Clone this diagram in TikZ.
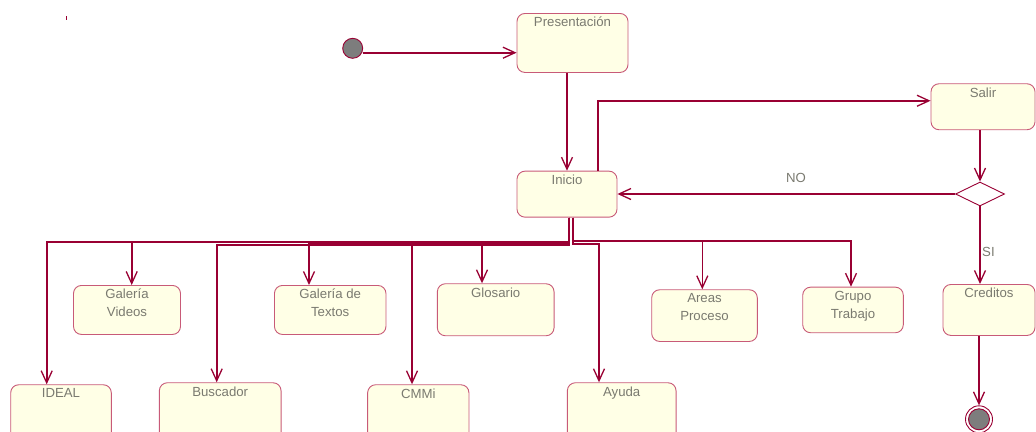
\documentclass[tikz,border=0pt]{standalone}
\usepackage{fontspec}
\setmainfont{Liberation Sans}
\usetikzlibrary{arrows.meta,shapes.geometric}

\definecolor{wire}{RGB}{153,0,51}
\definecolor{rim}{RGB}{200,90,120}
\definecolor{paper}{RGB}{255,255,230}
\definecolor{ink}{RGB}{122,122,112}
\definecolor{dot}{RGB}{125,125,125}

\tikzset{
  actbox/.style={draw=rim, fill=paper, line width=0.9pt, rounded corners=8pt,
                 inner sep=0pt, anchor=north},
  boxtext/.style={font=\fontsize{13.2}{18}\selectfont, text=ink, align=center,
                  inner sep=0pt, anchor=north},
  conn/.style={draw=wire, line width=1.6pt,
               -{Straight Barb[length=12pt,width=11pt,line width=1.3pt]}},
  pseudo/.style={circle, draw=wire, line width=0.9pt, inner sep=0pt},
}

\begin{document}
\begin{tikzpicture}[x=1pt, y=-1pt]
  \clip (0,0) rectangle (1036,431);

  % stray mark near the top left
  \fill[wire] (65.5,16) rectangle (67,19.5);

  % start and end states
  \node[pseudo, fill=dot, minimum size=20pt] (init) at (352.7,48.3) {};
  \node[pseudo, minimum size=27pt] (fin) at (979,419.3) {};
  \node[pseudo, fill=dot, minimum size=21pt] (finin) at (fin.center) {};

  % activity boxes: (centre x, top), width, height
  \node[actbox, minimum width=111pt, minimum height=59pt,
        label={[boxtext,yshift=-4pt]north:Presentación}] (pres) at (572.5,13) {};
  \node[actbox, minimum width=100pt, minimum height=46pt,
        label={[boxtext,yshift=-4pt]north:Inicio}] (ini) at (567,170.7) {};
  \node[actbox, minimum width=104pt, minimum height=46pt,
        label={[boxtext,yshift=-4pt]north:Salir}] (salir) at (983,83.3) {};
  \node[actbox, minimum width=92pt, minimum height=51pt,
        label={[boxtext,yshift=-4pt]north:Creditos}] (cred) at (989,284) {};

  \node[actbox, minimum width=107pt, minimum height=49pt,
        label={[boxtext,yshift=-4pt]north:{Galería\\Videos}}] (videos) at (127,285) {};
  \node[actbox, minimum width=111.5pt, minimum height=49pt,
        label={[boxtext,yshift=-4pt]north:{Galería de\\Textos}}] (textos) at (330.2,285) {};
  \node[actbox, minimum width=116.7pt, minimum height=52pt,
        label={[boxtext,yshift=-4pt]north:Glosario}] (glos) at (495.7,283.3) {};
  \node[actbox, minimum width=105.6pt, minimum height=51.7pt,
        label={[boxtext,yshift=-4pt]north:{Areas\\Proceso}}] (areas) at (704.5,289.3) {};
  \node[actbox, minimum width=100.6pt, minimum height=45.6pt,
        label={[boxtext,yshift=-4pt]north:{Grupo\\Trabajo}}] (grupo) at (853,286.7) {};

  \node[actbox, minimum width=100.6pt, minimum height=60pt,
        label={[boxtext,yshift=-4pt]north:IDEAL}] (ideal) at (61,384.3) {};
  \node[actbox, minimum width=121.7pt, minimum height=60pt,
        label={[boxtext,yshift=-4pt]north:Buscador}] (busc) at (220.2,382.3) {};
  \node[actbox, minimum width=101.3pt, minimum height=60pt,
        label={[boxtext,yshift=-4pt]north:CMMi}] (cmmi) at (418.3,384.3) {};
  \node[actbox, minimum width=108.7pt, minimum height=60pt,
        label={[boxtext,yshift=-4pt]north:Ayuda}] (ayuda) at (621.7,382.3) {};

  % decision
  \node[diamond, draw=wire, fill=white, line width=0.9pt, inner sep=0pt,
        minimum width=49pt, minimum height=24pt] (dec) at (980,194) {};

  % guards
  \node[boxtext, anchor=center] (no) at (796,178) {NO};
  \node[boxtext, anchor=west] (si) at (982,252) {SI};

  % main flow
  \coordinate (initout) at ([yshift=-4.4pt]init.east);
  \draw[conn] (initout) -- (initout -| pres.west);
  \draw[conn] (pres.south -| ini.north) -- (ini.north);
  \coordinate (iniup) at ([xshift=31pt]ini.north);
  \draw[conn] (iniup) |- ([yshift=6pt]salir.west);
  \draw[conn] (salir.south -| dec.north) -- (dec.north);
  \draw[conn] (dec.west) -- (dec.west -| ini.east);
  \draw[conn] (dec.south) -- (dec.south |- cred.north);
  \draw[conn] (cred.south -| fin.north) -- (fin.north);

  % branches out of Inicio
  \coordinate (outL) at ([xshift=2pt]ini.south);
  \coordinate (outR) at ([xshift=6pt]ini.south);

  \draw[conn] (outL) -- (outL |- 0,242) -| ([xshift=-14.3pt]ideal.north);
  \draw[conn] (outL) -- (outL |- 0,242) -| ([xshift=4.7pt]videos.north);
  \draw[conn] (outL) -- (outL |- 0,245) -| ([xshift=-3.5pt]busc.north);
  \draw[conn] (outL) -- (outL |- 0,244) -| ([xshift=-21.2pt]textos.north);
  \draw[conn] (outL) -- (outL |- 0,242) -| ([xshift=-6.3pt]cmmi.north);
  \draw[conn] (outL) -- (outL |- 0,242) -| ([xshift=-13.7pt]glos.north);

  \draw[conn] (outR) -- (outR |- 0,244) -| ([xshift=-22.7pt]ayuda.north);
  \draw[conn] (outR) -- (outR |- 0,241) -| ([xshift=-2.2pt]areas.north);
  \draw[conn] (outR) -- (outR |- 0,241) -| ([xshift=-2pt]grupo.north);
\end{tikzpicture}
\end{document}
